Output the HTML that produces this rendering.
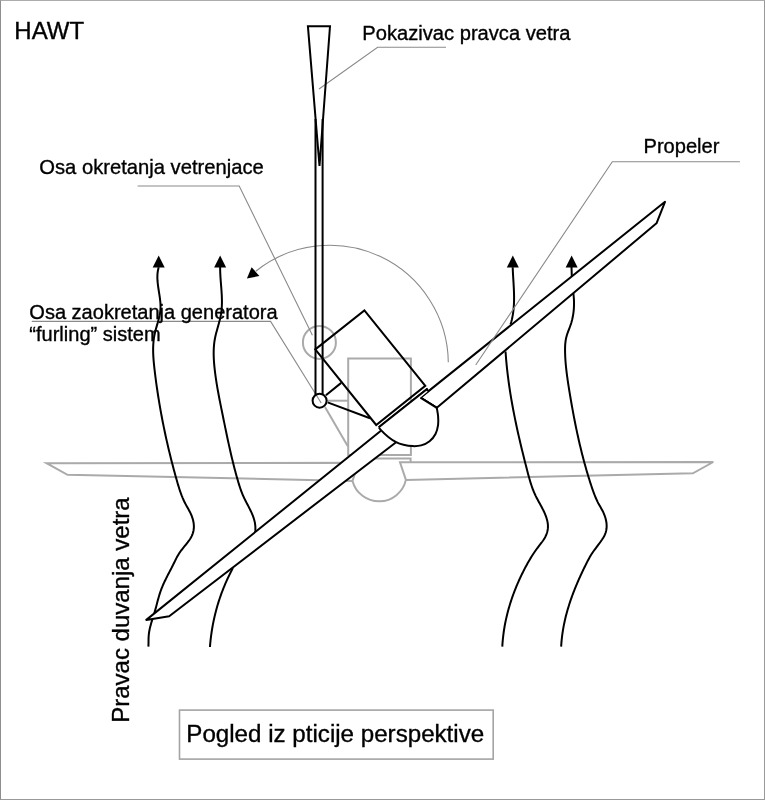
<!DOCTYPE html>
<html><head><meta charset="utf-8"><style>
html,body{margin:0;padding:0;background:#fff;}
#c{position:relative;width:765px;height:800px;overflow:hidden;background:#fff;}
#c svg{position:absolute;left:0;top:0;will-change:transform;}
#fr{position:absolute;left:0;top:0;width:763px;height:798px;border:1px solid #999;border-top-color:#acacac;border-left-color:#8e8e8e;}
</style></head><body><div id="c"><svg width="765" height="800" viewBox="0 0 765 800"><g stroke="#aaa" stroke-width="2" stroke-linejoin="miter"><path d="M352.5,480.9 L67.5,474.8 L46.6,463.2 L358.4,462.8 Z M405.9,479.9 L692.9,473.3 L713.3,462 L400,462.3 Z M352.5,480.9 A27.5,27.5 0 0 0 405.9,479.9" fill="none"/><rect x="348.2" y="358.5" width="62.7" height="96.5" fill="none"/><path d="M348.2,458.4 L410.6,458.4 L410.6,462" fill="none"/><path d="M327,400.7 L348.2,400.7" fill="none"/><path d="M325,407 L347.8,446.3" fill="none"/><circle cx="319.4" cy="342.4" r="16.5" fill="none"/></g><g stroke="#8a8a8a" stroke-width="1.1" fill="none"><path d="M446,47.3 L377.6,47.3 L319,89" /><path d="M137.6,186 L239.2,186 L312.4,335.3" /><path d="M31.8,321.4 L270.6,321.4 L321.2,403" /></g><path d="M448.3,362.2 A118.5,118.5 0 0 0 255.8,271.2" stroke="#8a8a8a" stroke-width="1.1" fill="none"/><polygon points="246.9,278.6 251.6,267.2 259.4,275.9" fill="#000"/><g stroke="#000" stroke-width="2.0" stroke-linecap="butt" stroke-linejoin="round"><polygon points="158.7,255.5 152.7,267.6 164.7,267.6" fill="#000" stroke="none"/><path d="M158.70,267.20 L158.30,268.69 L157.99,270.18 L157.74,271.67 L157.56,273.17 L157.44,274.67 L157.39,276.18 L157.38,277.68 L157.42,279.19 L157.50,280.70 L157.63,282.21 L157.78,283.72 L157.96,285.23 L158.16,286.75 L158.39,288.26 L158.62,289.77 L158.86,291.29 L159.10,292.80 L159.34,294.31 L159.57,295.83 L159.79,297.34 L159.99,298.85 L160.16,300.35 L160.31,301.86 L160.42,303.37 L160.50,304.87 L160.53,306.37 L160.52,307.86 L160.45,309.36 L160.32,310.85 L160.13,312.33 L159.90,313.82 L159.62,315.30 L159.29,316.78 L158.94,318.26 L158.56,319.73 L158.16,321.21 L157.74,322.68 L157.31,324.15 L156.88,325.63 L156.45,327.10 L156.03,328.57 L155.63,330.05 L155.25,331.52 L154.89,333.00 L154.57,334.48 L154.28,335.96 L154.03,337.44 L153.82,338.93 L153.63,340.41 L153.48,341.90 L153.36,343.39 L153.26,344.88 L153.19,346.37 L153.15,347.87 L153.13,349.36 L153.14,350.86 L153.17,352.35 L153.21,353.85 L153.28,355.35 L153.36,356.85 L153.46,358.34 L153.57,359.84 L153.70,361.34 L153.84,362.84 L153.98,364.34 L154.14,365.84 L154.30,367.34 L154.47,368.84 L154.65,370.34 L154.82,371.83 L155.00,373.33 L155.19,374.83 L155.37,376.32 L155.57,377.82 L155.76,379.32 L155.96,380.81 L156.16,382.31 L156.36,383.80 L156.57,385.29 L156.78,386.79 L157.00,388.28 L157.22,389.77 L157.44,391.26 L157.66,392.75 L157.89,394.24 L158.12,395.73 L158.36,397.22 L158.60,398.71 L158.84,400.20 L159.08,401.69 L159.33,403.17 L159.58,404.66 L159.84,406.14 L160.09,407.63 L160.36,409.11 L160.62,410.60 L160.89,412.08 L161.16,413.56 L161.43,415.05 L161.71,416.53 L161.99,418.01 L162.27,419.49 L162.56,420.97 L162.85,422.45 L163.14,423.93 L163.44,425.40 L163.74,426.88 L164.04,428.36 L164.35,429.83 L164.66,431.31 L164.97,432.78 L165.29,434.26 L165.60,435.73 L165.93,437.20 L166.25,438.67 L166.58,440.15 L166.91,441.62 L167.24,443.09 L167.58,444.56 L167.92,446.02 L168.26,447.49 L168.61,448.96 L168.96,450.42 L169.31,451.89 L169.67,453.36 L170.03,454.82 L170.39,456.28 L170.75,457.75 L171.12,459.21 L171.49,460.67 L171.86,462.13 L172.24,463.59 L172.62,465.05 L173.00,466.50 L173.39,467.96 L173.77,469.42 L174.16,470.87 L174.56,472.33 L174.95,473.78 L175.35,475.24 L175.76,476.69 L176.16,478.14 L176.57,479.59 L176.98,481.04 L177.40,482.49 L177.82,483.94 L178.25,485.38 L178.69,486.82 L179.14,488.26 L179.60,489.69 L180.07,491.11 L180.57,492.53 L181.08,493.94 L181.60,495.34 L182.16,496.73 L182.73,498.12 L183.33,499.49 L183.95,500.85 L184.60,502.20 L185.28,503.54 L186.00,504.86 L186.73,506.18 L187.48,507.49 L188.22,508.81 L188.96,510.14 L189.67,511.48 L190.36,512.85 L191.00,514.25 L191.59,515.67 L192.13,517.11 L192.60,518.57 L193.02,520.04 L193.36,521.52 L193.62,523.01 L193.79,524.50 L193.88,526.00 L193.87,527.49 L193.76,528.97 L193.55,530.44 L193.23,531.90 L192.81,533.33 L192.29,534.73 L191.67,536.09 L190.98,537.42 L190.22,538.71 L189.40,539.98 L188.53,541.21 L187.63,542.42 L186.69,543.62 L185.74,544.80 L184.78,545.98 L183.81,547.15 L182.85,548.33 L181.91,549.52 L180.99,550.72 L180.11,551.94 L179.27,553.18 L178.47,554.46 L177.72,555.75 L176.99,557.06 L176.29,558.39 L175.61,559.73 L174.94,561.08 L174.28,562.44 L173.61,563.79 L172.94,565.14 L172.26,566.49 L171.57,567.84 L170.87,569.18 L170.18,570.52 L169.48,571.86 L168.78,573.21 L168.09,574.55 L167.40,575.89 L166.72,577.24 L166.04,578.59 L165.38,579.95 L164.73,581.30 L164.09,582.67 L163.46,584.04 L162.86,585.41 L162.27,586.80 L161.71,588.19 L161.17,589.59 L160.65,591.00 L160.16,592.42 L159.70,593.84 L159.25,595.28 L158.83,596.72 L158.42,598.17 L158.02,599.62 L157.62,601.08 L157.24,602.53 L156.85,603.99 L156.47,605.45 L156.08,606.91 L155.69,608.37 L155.29,609.82 L154.87,611.27 L154.44,612.72 L154.00,614.16 L153.55,615.60 L153.10,617.03 L152.64,618.47 L152.19,619.90 L151.75,621.34 L151.32,622.78 L150.91,624.22 L150.52,625.66 L150.15,627.12 L149.81,628.57 L149.50,630.04 L149.23,631.51 L149.00,632.99 L148.82,634.49 L148.68,636.00 L148.60,637.51 L148.55,639.04 L148.53,640.57 L148.52,642.10 L148.50,643.62 L148.45,645.13 L148.37,646.62" fill="none"/><polygon points="220.1,255.5 214.1,267.4 226.1,267.4" fill="#000" stroke="none"/><path d="M220.15,266.80 L220.14,268.30 L220.16,269.80 L220.19,271.30 L220.24,272.81 L220.31,274.32 L220.39,275.83 L220.48,277.34 L220.59,278.85 L220.69,280.37 L220.81,281.88 L220.93,283.40 L221.05,284.91 L221.17,286.43 L221.29,287.94 L221.40,289.46 L221.51,290.98 L221.61,292.49 L221.70,294.01 L221.78,295.52 L221.84,297.03 L221.89,298.54 L221.92,300.05 L221.94,301.56 L221.93,303.06 L221.89,304.56 L221.84,306.06 L221.75,307.56 L221.64,309.05 L221.49,310.54 L221.32,312.03 L221.11,313.52 L220.86,315.00 L220.57,316.47 L220.25,317.94 L219.91,319.41 L219.54,320.88 L219.16,322.35 L218.76,323.81 L218.35,325.28 L217.93,326.74 L217.51,328.20 L217.10,329.67 L216.70,331.14 L216.30,332.60 L215.93,334.07 L215.57,335.55 L215.25,337.02 L214.95,338.50 L214.68,339.99 L214.45,341.47 L214.25,342.97 L214.09,344.46 L213.95,345.96 L213.84,347.46 L213.76,348.97 L213.70,350.47 L213.67,351.98 L213.66,353.49 L213.68,355.00 L213.72,356.51 L213.77,358.03 L213.85,359.54 L213.94,361.05 L214.05,362.57 L214.17,364.08 L214.31,365.59 L214.46,367.10 L214.62,368.61 L214.79,370.12 L214.97,371.62 L215.15,373.13 L215.35,374.63 L215.55,376.13 L215.76,377.63 L215.98,379.12 L216.21,380.62 L216.44,382.11 L216.67,383.60 L216.92,385.09 L217.17,386.58 L217.42,388.07 L217.68,389.56 L217.95,391.04 L218.22,392.53 L218.49,394.01 L218.77,395.50 L219.05,396.98 L219.34,398.46 L219.62,399.95 L219.91,401.43 L220.21,402.91 L220.50,404.39 L220.80,405.87 L221.10,407.35 L221.40,408.83 L221.70,410.31 L222.00,411.79 L222.31,413.27 L222.61,414.75 L222.91,416.24 L223.21,417.72 L223.52,419.20 L223.82,420.68 L224.12,422.16 L224.43,423.65 L224.73,425.13 L225.03,426.61 L225.34,428.10 L225.65,429.58 L225.95,431.06 L226.26,432.54 L226.57,434.02 L226.88,435.51 L227.20,436.99 L227.51,438.47 L227.83,439.95 L228.15,441.43 L228.47,442.91 L228.79,444.39 L229.12,445.87 L229.45,447.34 L229.78,448.82 L230.11,450.30 L230.45,451.77 L230.79,453.25 L231.13,454.72 L231.48,456.19 L231.83,457.66 L232.18,459.13 L232.53,460.60 L232.89,462.07 L233.26,463.54 L233.63,465.00 L234.00,466.47 L234.38,467.93 L234.76,469.39 L235.14,470.85 L235.53,472.31 L235.93,473.76 L236.33,475.22 L236.73,476.67 L237.14,478.12 L237.56,479.57 L237.98,481.02 L238.41,482.46 L238.85,483.91 L239.29,485.34 L239.76,486.78 L240.23,488.21 L240.73,489.63 L241.24,491.05 L241.77,492.46 L242.33,493.86 L242.91,495.25 L243.53,496.64 L244.16,498.01 L244.83,499.38 L245.51,500.74 L246.20,502.10 L246.91,503.45 L247.62,504.80 L248.32,506.15 L249.02,507.50 L249.71,508.85 L250.39,510.21 L251.04,511.57 L251.67,512.94 L252.26,514.32 L252.82,515.70 L253.34,517.10 L253.81,518.51 L254.23,519.93 L254.59,521.37 L254.90,522.83 L255.13,524.30 L255.30,525.80 L255.39,527.32 L255.40,528.85 L255.32,530.42 L255.15,532.01" fill="none"/><path d="M232.94,568.01 L232.21,569.37 L231.49,570.73 L230.79,572.09 L230.09,573.46 L229.41,574.84 L228.74,576.22 L228.07,577.61 L227.43,579.00 L226.79,580.40 L226.16,581.80 L225.54,583.20 L224.94,584.62 L224.35,586.03 L223.77,587.45 L223.20,588.88 L222.64,590.30 L222.09,591.74 L221.55,593.18 L221.03,594.62 L220.52,596.06 L220.02,597.51 L219.53,598.97 L219.05,600.42 L218.58,601.88 L218.12,603.35 L217.68,604.82 L217.25,606.29 L216.83,607.76 L216.42,609.24 L216.02,610.72 L215.63,612.21 L215.26,613.69 L214.89,615.18 L214.54,616.68 L214.20,618.17 L213.87,619.67 L213.56,621.17 L213.25,622.68 L212.96,624.18 L212.67,625.69 L212.40,627.20 L212.14,628.71 L211.90,630.23 L211.66,631.75 L211.44,633.27 L211.22,634.79 L211.02,636.31 L210.83,637.83 L210.66,639.36 L210.49,640.89 L210.34,642.42 L210.19,643.95 L210.06,645.48 L209.94,647.01" fill="none"/><polygon points="512.8,255.5 506.79999999999995,267.6 518.8,267.6" fill="#000" stroke="none"/><path d="M512.69,267.20 L512.75,268.75 L512.81,270.29 L512.88,271.84 L512.96,273.40 L513.05,274.95 L513.14,276.50 L513.23,278.06 L513.33,279.62 L513.42,281.18 L513.52,282.74 L513.61,284.30 L513.69,285.86 L513.77,287.42 L513.85,288.99 L513.91,290.55 L513.97,292.11 L514.02,293.67 L514.05,295.23 L514.07,296.79 L514.07,298.35 L514.06,299.91 L514.03,301.46 L513.98,303.02 L513.91,304.57 L513.81,306.12 L513.70,307.67 L513.56,309.21 L513.39,310.76 L513.19,312.30 L512.97,313.84 L512.72,315.37 L512.43,316.90 L512.11,318.43 L511.76,319.96 L511.37,321.48 L510.94,322.99 L510.47,324.50" fill="none"/><path d="M505.54,351.49 L505.64,353.00 L505.75,354.52 L505.87,356.03 L505.99,357.54 L506.11,359.06 L506.24,360.57 L506.38,362.08 L506.52,363.58 L506.67,365.09 L506.82,366.60 L506.98,368.11 L507.14,369.61 L507.31,371.12 L507.48,372.62 L507.66,374.12 L507.84,375.62 L508.03,377.13 L508.22,378.63 L508.42,380.13 L508.62,381.62 L508.83,383.12 L509.04,384.62 L509.25,386.12 L509.47,387.61 L509.70,389.11 L509.92,390.60 L510.16,392.09 L510.39,393.59 L510.64,395.08 L510.88,396.57 L511.13,398.06 L511.38,399.55 L511.64,401.04 L511.90,402.53 L512.17,404.02 L512.44,405.50 L512.71,406.99 L512.99,408.48 L513.27,409.96 L513.55,411.45 L513.84,412.93 L514.13,414.42 L514.42,415.90 L514.72,417.38 L515.02,418.86 L515.32,420.35 L515.63,421.83 L515.94,423.31 L516.25,424.79 L516.57,426.27 L516.89,427.75 L517.21,429.23 L517.54,430.71 L517.87,432.18 L518.20,433.66 L518.53,435.14 L518.86,436.62 L519.20,438.09 L519.54,439.57 L519.89,441.04 L520.23,442.52 L520.58,444.00 L520.93,445.47 L521.28,446.94 L521.64,448.42 L522.00,449.89 L522.36,451.37 L522.72,452.84 L523.08,454.31 L523.44,455.78 L523.81,457.26 L524.18,458.73 L524.55,460.20 L524.92,461.67 L525.30,463.15 L525.67,464.62 L526.05,466.09 L526.43,467.56 L526.80,469.03 L527.19,470.50 L527.57,471.97 L527.95,473.44 L528.35,474.91 L528.74,476.37 L529.15,477.83 L529.56,479.29 L529.99,480.74 L530.42,482.18 L530.87,483.62 L531.34,485.05 L531.82,486.47 L532.32,487.88 L532.84,489.28 L533.38,490.67 L533.95,492.05 L534.54,493.42 L535.15,494.77 L535.79,496.11 L536.46,497.43 L537.15,498.75 L537.85,500.07 L538.57,501.40 L539.31,502.73 L540.05,504.07 L540.79,505.43 L541.53,506.81 L542.26,508.20 L542.98,509.60 L543.68,511.01 L544.34,512.43 L544.97,513.87 L545.56,515.30 L546.10,516.75 L546.58,518.20 L547.00,519.66 L547.36,521.12 L547.63,522.58 L547.83,524.04 L547.94,525.50 L547.95,526.96 L547.87,528.42 L547.67,529.87 L547.38,531.32 L546.99,532.75 L546.51,534.16 L545.94,535.55 L545.30,536.91 L544.57,538.23 L543.78,539.52 L542.92,540.78 L542.03,542.00 L541.10,543.21 L540.16,544.42 L539.21,545.62 L538.29,546.83 L537.37,548.05 L536.48,549.28 L535.60,550.52 L534.74,551.76 L533.89,553.02 L533.05,554.28 L532.23,555.56 L531.43,556.83 L530.63,558.12 L529.85,559.42 L529.08,560.72 L528.33,562.02 L527.58,563.34 L526.85,564.66 L526.13,565.98 L525.41,567.32 L524.71,568.65 L524.02,569.99 L523.33,571.34 L522.65,572.69 L521.99,574.05 L521.33,575.41 L520.68,576.78 L520.04,578.15 L519.40,579.52 L518.78,580.90 L518.17,582.29 L517.57,583.67 L516.97,585.07 L516.39,586.46 L515.82,587.86 L515.25,589.27 L514.70,590.68 L514.16,592.09 L513.63,593.51 L513.10,594.93 L512.59,596.35 L512.09,597.78 L511.60,599.21 L511.12,600.64 L510.66,602.08 L510.20,603.53 L509.75,604.97 L509.32,606.42 L508.90,607.87 L508.49,609.33 L508.09,610.79 L507.70,612.25 L507.32,613.72 L506.96,615.18 L506.61,616.66 L506.27,618.13 L505.94,619.61 L505.63,621.09 L505.33,622.57 L505.04,624.06 L504.76,625.54 L504.50,627.03 L504.25,628.53 L504.01,630.02 L503.79,631.52 L503.58,633.02 L503.38,634.53 L503.20,636.03 L503.03,637.54 L502.87,639.05 L502.73,640.56 L502.60,642.07 L502.48,643.59 L502.38,645.11 L502.30,646.63" fill="none"/><polygon points="571.6,255.5 565.6,267.4 577.6,267.4" fill="#000" stroke="none"/><path d="M571.50,266.80 C571.60,269.87 571.70,272.93 571.80,276.00" fill="none"/><path d="M573.29,293.00 L573.49,294.49 L573.65,295.99 L573.79,297.50 L573.89,299.01 L573.97,300.52 L574.01,302.03 L574.03,303.55 L574.01,305.06 L573.96,306.57 L573.88,308.08 L573.77,309.59 L573.63,311.10 L573.45,312.60 L573.24,314.10 L573.00,315.59 L572.72,317.08 L572.40,318.55 L572.06,320.02 L571.67,321.48 L571.26,322.93 L570.80,324.37 L570.31,325.80 L569.79,327.22 L569.25,328.63 L568.71,330.04 L568.17,331.44 L567.65,332.86 L567.16,334.27 L566.72,335.70 L566.32,337.15 L565.99,338.60 L565.72,340.08 L565.50,341.56 L565.33,343.06 L565.21,344.56 L565.13,346.07 L565.08,347.59 L565.05,349.11 L565.06,350.63 L565.08,352.15 L565.12,353.67 L565.17,355.19 L565.24,356.70 L565.31,358.21 L565.41,359.72 L565.51,361.23 L565.63,362.73 L565.75,364.23 L565.89,365.74 L566.04,367.24 L566.20,368.73 L566.36,370.23 L566.54,371.73 L566.72,373.22 L566.91,374.71 L567.11,376.21 L567.32,377.70 L567.53,379.19 L567.74,380.68 L567.96,382.17 L568.19,383.66 L568.42,385.14 L568.66,386.63 L568.89,388.12 L569.13,389.61 L569.37,391.09 L569.62,392.58 L569.86,394.07 L570.11,395.56 L570.36,397.04 L570.61,398.53 L570.87,400.01 L571.12,401.50 L571.38,402.99 L571.64,404.47 L571.91,405.96 L572.17,407.44 L572.44,408.93 L572.71,410.41 L572.99,411.90 L573.26,413.38 L573.54,414.86 L573.82,416.35 L574.11,417.83 L574.39,419.31 L574.68,420.79 L574.98,422.27 L575.27,423.75 L575.57,425.23 L575.87,426.71 L576.18,428.19 L576.49,429.66 L576.80,431.14 L577.11,432.62 L577.43,434.09 L577.76,435.57 L578.08,437.04 L578.41,438.51 L578.74,439.99 L579.08,441.46 L579.42,442.93 L579.76,444.40 L580.11,445.86 L580.46,447.33 L580.81,448.80 L581.17,450.26 L581.53,451.73 L581.90,453.19 L582.27,454.65 L582.65,456.11 L583.02,457.57 L583.41,459.03 L583.79,460.49 L584.19,461.95 L584.58,463.40 L584.98,464.86 L585.39,466.31 L585.80,467.76 L586.21,469.21 L586.63,470.66 L587.05,472.10 L587.48,473.55 L587.91,474.99 L588.35,476.44 L588.79,477.88 L589.24,479.32 L589.69,480.76 L590.14,482.19 L590.61,483.63 L591.07,485.06 L591.55,486.49 L592.02,487.92 L592.51,489.35 L593.01,490.77 L593.52,492.18 L594.05,493.59 L594.59,494.99 L595.15,496.38 L595.73,497.76 L596.34,499.13 L596.96,500.49 L597.61,501.84 L598.29,503.17 L599.00,504.48 L599.73,505.79 L600.47,507.09 L601.22,508.39 L601.95,509.71 L602.66,511.05 L603.33,512.42 L603.96,513.82 L604.53,515.26 L605.05,516.72 L605.50,518.20 L605.89,519.70 L606.20,521.21 L606.44,522.72 L606.59,524.23 L606.65,525.74 L606.63,527.24 L606.50,528.72 L606.28,530.17 L605.95,531.61 L605.52,533.01 L605.00,534.38 L604.37,535.71 L603.67,537.01 L602.91,538.28 L602.10,539.54 L601.26,540.78 L600.39,542.01 L599.50,543.23 L598.59,544.45 L597.68,545.66 L596.76,546.87 L595.84,548.08 L594.93,549.30 L594.03,550.53 L593.15,551.76 L592.30,553.01 L591.47,554.28 L590.68,555.56 L589.92,556.86 L589.18,558.17 L588.46,559.49 L587.76,560.82 L587.07,562.16 L586.39,563.50 L585.71,564.85 L585.04,566.20 L584.38,567.55 L583.72,568.90 L583.06,570.26 L582.41,571.63 L581.77,572.99 L581.13,574.36 L580.50,575.73 L579.87,577.11 L579.25,578.48 L578.64,579.86 L578.04,581.25 L577.44,582.63 L576.85,584.02 L576.26,585.42 L575.69,586.81 L575.12,588.21 L574.56,589.61 L574.01,591.02 L573.46,592.43 L572.93,593.84 L572.40,595.25 L571.88,596.67 L571.38,598.09 L570.88,599.51 L570.39,600.94 L569.91,602.37 L569.44,603.80 L568.98,605.23 L568.54,606.67 L568.10,608.11 L567.67,609.56 L567.26,611.00 L566.85,612.45 L566.46,613.91 L566.08,615.36 L565.71,616.82 L565.36,618.28 L565.01,619.75 L564.68,621.22 L564.36,622.69 L564.06,624.16 L563.76,625.64 L563.48,627.12 L563.22,628.60 L562.96,630.09 L562.73,631.58 L562.50,633.07 L562.29,634.56 L562.10,636.06 L561.92,637.56 L561.75,639.06 L561.60,640.57 L561.46,642.08 L561.35,643.59 L561.24,645.11 L561.15,646.62" fill="none"/></g><g stroke="#000" stroke-width="2.0" stroke-linejoin="miter"><polygon points="307.9,26.2 330,26.2 319.5,166" fill="none"/><path d="M315.5,119 L315.5,395 M322.6,119 L322.6,394.4" fill="none"/><circle cx="319.6" cy="400.7" r="7" fill="none"/><polygon points="315.3,349.4 364.4,310.4 425.3,385.9 376.2,425" fill="none"/><path d="M325.9,395.3 L341.2,382.9 M327.6,402.4 L370,418.2" fill="none"/></g><g stroke="#000" stroke-width="2.0" stroke-linejoin="miter"><polygon points="146.3,619.9 169.2,616.2 396.1,442.2 380.9,430.8" fill="#fff" stroke="none"/><polygon points="665.0,201.8 656.5,223.3 436.8,407.8 420.4,397.6" fill="#fff" stroke="none"/><path d="M380.9,430.8 L146.3,619.9 L169.2,616.2 L396.1,442.2" fill="none" stroke-linejoin="round"/><path d="M420.4,397.6 L665.0,201.8 L656.5,223.3 L436.8,407.8 L420.4,397.6" fill="none" stroke-linejoin="round"/><path d="M378.8,427.3 L426.8,389.2 L428.1,391.3 L420.4,397.6 L436.8,407.8 L436.8,407.8" fill="#fff"/><path d="M378.80,427.30 C379.53,428.27 379.99,429.08 381.00,430.20 C382.67,432.05 385.74,434.98 388.30,437.00 C390.78,438.96 393.45,440.88 396.10,442.20 C398.52,443.41 400.87,444.16 403.50,444.80 C406.34,445.50 409.61,446.01 412.60,446.10 C415.48,446.19 418.34,446.17 421.10,445.40 C424.01,444.59 427.19,443.11 429.60,441.20 C431.99,439.30 434.09,436.71 435.50,434.00 C436.93,431.25 437.68,427.83 438.10,424.80 C438.50,421.94 438.31,419.13 438.10,416.30 C437.88,413.46 437.23,410.63 436.80,407.80 L420.4,397.6 L428.1,391.3 L426.8,389.2 Z" fill="#fff" stroke="none"/><path d="M378.80,427.30 C379.53,428.27 379.99,429.08 381.00,430.20 C382.67,432.05 385.74,434.98 388.30,437.00 C390.78,438.96 393.45,440.88 396.10,442.20 C398.52,443.41 400.87,444.16 403.50,444.80 C406.34,445.50 409.61,446.01 412.60,446.10 C415.48,446.19 418.34,446.17 421.10,445.40 C424.01,444.59 427.19,443.11 429.60,441.20 C431.99,439.30 434.09,436.71 435.50,434.00 C436.93,431.25 437.68,427.83 438.10,424.80 C438.50,421.94 438.31,419.13 438.10,416.30 C437.88,413.46 437.23,410.63 436.80,407.80" fill="none"/><path d="M378.8,427.3 L426.8,389.2 L428.1,391.3 M420.4,397.6 L436.8,407.8" fill="none"/></g><path d="M739.9,161.7 L612.3,161.7 L475.7,365" stroke="#8a8a8a" stroke-width="1.1" fill="none"/><g fill="#000" stroke="#000" stroke-width="0.35"><text x="14.3" y="39.0" font-size="24" font-family="Liberation Sans, sans-serif">HAWT</text><text x="362.3" y="40.2" font-size="20.15" font-family="Liberation Sans, sans-serif">Pokazivac pravca vetra</text><text x="39.3" y="174.2" font-size="20.2" font-family="Liberation Sans, sans-serif">Osa okretanja vetrenjace</text><text x="643.5" y="152.5" font-size="20.1" font-family="Liberation Sans, sans-serif">Propeler</text><text x="29.3" y="318.8" font-size="20.05" font-family="Liberation Sans, sans-serif">Osa zaokretanja generatora</text><text x="29.3" y="341.2" font-size="20.05" font-family="Liberation Sans, sans-serif">“furling” sistem</text><text transform="translate(128.9,722.8) rotate(-90)" x="0" y="0" font-size="24" font-family="Liberation Sans, sans-serif">Pravac duvanja vetra</text><text x="186.3" y="742.1" font-size="24.15" font-family="Liberation Sans, sans-serif">Pogled iz pticije perspektive</text></g><rect x="179.5" y="710.1" width="313.7" height="49" fill="none" stroke="#a4a4a4" stroke-width="1.6"/></svg><div id="fr"></div></div></body></html>
